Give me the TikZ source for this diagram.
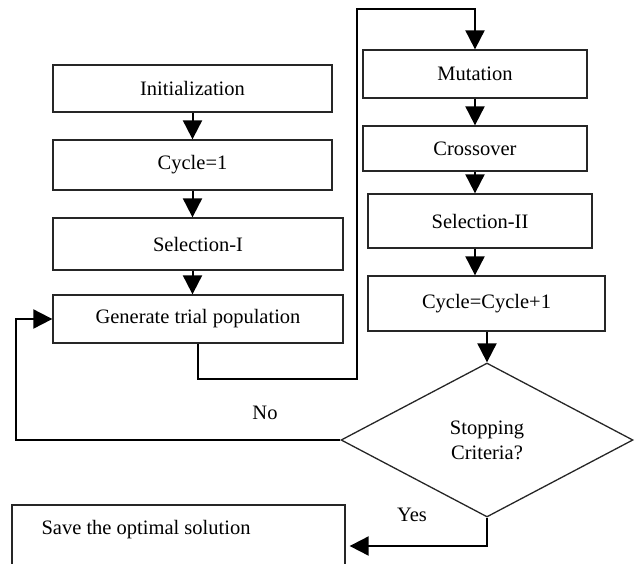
\documentclass[tikz,border=0pt]{standalone}
\usepackage{fontspec}
\setmainfont{Liberation Serif}
\usetikzlibrary{positioning,arrows.meta,shapes.geometric}

\tikzset{
  stepbox/.style={draw=black!85, line width=1.3pt, inner sep=0pt,
    font=\fontsize{20.5}{25}\selectfont},
  decision/.style={diamond, draw=black!85, line width=1.3pt, inner sep=0pt,
    align=center, font=\fontsize{20.5}{25}\selectfont},
  flow/.style={line width=2pt, -{Triangle[width=19pt,length=19pt]}},
  link/.style={line width=2pt},
  tag/.style={font=\fontsize{20.5}{25}\selectfont}
}

\begin{document}
\begin{tikzpicture}[x=1pt, y=-1pt]
        \useasboundingbox (0,0) rectangle (635,563);
        \clip (0,0) rectangle (635,563);
        % Left column
        \node[stepbox, minimum width=279pt, minimum height=47pt] (init) at (192.5,88.5) {Initialization};
        \node[stepbox, minimum width=279pt, minimum height=50pt] (cyc1) at (192.5,165) {Cycle=1};
        \node[stepbox, minimum width=290pt, minimum height=52pt] (sel1) at (198,244) {Selection-I};
        \node[stepbox, minimum width=290pt, minimum height=48pt] (gen) at (198,319) {Generate trial population};
        % Right column
        \node[stepbox, minimum width=224pt, minimum height=48pt] (mut) at (475,74) {Mutation};
        \node[stepbox, minimum width=224pt, minimum height=45pt] (cross) at (475,148.5) {Crossover};
        \node[stepbox, minimum width=224pt, minimum height=54pt] (sel2) at (480,221) {Selection-II};
        \node[stepbox, minimum width=237pt, minimum height=55pt] (cyc2) at (486.5,303.5) {Cycle=Cycle+1};
        \node[decision, minimum width=292pt, minimum height=154pt] (stop) at (487,440) {Stopping\\Criteria?};
        % Output box (cut off at the bottom)
        \node[stepbox, minimum width=333pt, minimum height=82pt] (save) at (178.5,546) {};
        \node[tag, anchor=west] (savetxt) at (38,530) {Save the optimal solution};
        % Arrows
        \draw[flow] (init) -- (cyc1);
        \draw[flow] (cyc1) -- (cyc1.south |- sel1.north);
        \draw[flow] (sel1.south -| cyc1.south) -- (cyc1.south |- gen.north);
        \coordinate (up1) at (357,379);
        \coordinate (up2) at (357,9);
        \draw[flow] (gen.south) |- (up1) -- (up2) -| (mut.north);
        \draw[flow] (mut) -- (cross);
        \draw[flow] (cross.south) -- (cross.south |- sel2.north);
        \draw[flow] (sel2.south -| cross.south) -- (cross.south |- cyc2.north);
        \draw[flow] (cyc2.south -| stop.north) -- (stop.north);
        % Loop back when not finished
        \coordinate (back) at (16,440);
        \draw[flow] (stop.west) -- (back) |- (gen.west);
        \node[tag] (no) at (265,413) {No};
        % Finished
        \draw[flow, shorten >=4pt] (stop.south) |- (save.east);
        \node[tag] (yes) at (412,515) {Yes};
    \end{tikzpicture}
\end{document}
